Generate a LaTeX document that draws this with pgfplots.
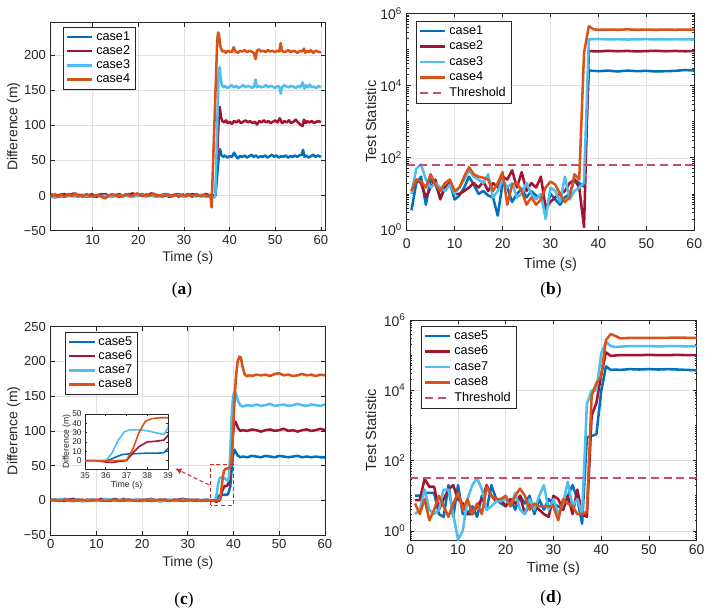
\documentclass[border=0pt]{standalone}
\usepackage{fontspec}
\setmainfont{Liberation Sans}
\newfontfamily\capfont{Liberation Serif}
\usepackage{pgfplots}
\pgfplotsset{compat=1.18}
\usepackage{pgfplotstable}
\usetikzlibrary{arrows.meta}

\definecolor{cA}{RGB}{0,114,189}
\definecolor{cB}{RGB}{162,20,47}
\definecolor{cC}{RGB}{77,190,238}
\definecolor{cD}{RGB}{217,83,25}
\definecolor{thr}{RGB}{204,76,102}
\definecolor{axc}{RGB}{38,38,38}
\definecolor{boxred}{RGB}{215,40,40}

% time histories of case5--case8 (used by the main plot and the zoomed inset)
\pgfplotstableread{
x y
0 1
1 0
2 -1
3 2
4 0
5 -1
6 1
7 0
8 -1
9 1
10 0
11 -1
12 1
13 0
14 2
15 0
16 -1
17 1
18 0
19 -1
20 0
21 1
22 -1
23 0
24 1
25 0
26 -1
27 1
28 0
29 -1
30 1
31 0
32 -1
33 0
34 1
35 0
35.5 0
36.0 0
36.2 1
36.5 4
36.8 6.5
37.0 7
37.5 7.5
38.0 8
38.5 8
38.8 8.5
39.0 13
39.3 20
39.6 45
39.9 65
40.2 73
40.6 68
41.0 64
41.5 62
42 63
43 62
44 64
45 63
46 62
47 64
48 63
49 62
50 64
51 63
52 62
53 63
54 64
55 62
56 63
57 62
58 63
59 62
60 62
}\tabfive
\pgfplotstableread{
x y
0 -1
1 1
2 0
3 -1
4 1
5 2
6 0
7 -1
8 1
9 0
10 -1
11 2
12 0
13 -1
14 1
15 0
16 2
17 -1
18 0
19 1
20 -1
21 0
22 2
23 0
24 -1
25 1
26 0
27 -1
28 1
29 2
30 0
31 -1
32 1
33 0
34 -1
35 0
35.5 0
36.0 -1.5
36.3 -2
36.6 -1
37.0 0
37.3 8
37.6 15
38.0 20
38.5 21
38.8 22
39.0 27
39.4 50
39.8 90
40.2 114
40.5 112
41.0 104
41.5 100
42 101
43 100
44 102
45 101
46 99
47 101
48 102
49 100
50 101
51 103
52 100
53 101
54 99
55 101
56 102
57 100
58 101
59 103
60 101
}\tabsix
\pgfplotstableread{
x y
0 0
1 -1
2 2
3 1
4 -1
5 0
6 1
7 -2
8 0
9 1
10 -1
11 0
12 2
13 1
14 -1
15 0
16 1
17 -1
18 0
19 2
20 0
21 -1
22 1
23 0
24 -2
25 0
26 1
27 -1
28 0
29 1
30 -1
31 0
32 1
33 -1
34 0
35 0
35.5 0
36.0 0
36.3 8
36.6 22
36.9 31
37.2 33
37.6 33
38.0 32
38.4 30
38.8 28
39.0 35
39.3 70
39.6 120
39.9 150
40.2 157
40.5 154
41.0 143
41.5 137
42.0 135
43 137
44 136
45 138
46 136
47 137
48 139
49 136
50 137
51 138
52 136
53 137
54 139
55 137
56 136
57 138
58 137
59 136
60 138
}\tabseven
\pgfplotstableread{
x y
0 1
1 0
2 -1
3 1
4 0
5 -1
6 0
7 1
8 -1
9 0
10 1
11 0
12 -1
13 0
14 1
15 -1
16 0
17 1
18 0
19 -1
20 1
21 0
22 -1
23 0
24 1
25 0
26 -1
27 1
28 0
29 -1
30 0
31 1
32 0
33 -1
34 0
35 0
35.5 0
36.0 0
36.5 0
37.0 0.5
37.3 12
37.6 30
37.9 42
38.2 45
38.6 46
39.0 46
39.3 47
39.6 60
39.9 100
40.2 140
40.5 175
40.9 200
41.3 207
41.6 206
42.0 192
42.4 182
42.8 179
43.5 180
44 179
45 181
46 180
47 181
48 179
49 182
50 183
51 180
52 181
53 179
54 180
55 182
56 180
57 181
58 179
59 181
60 180
}\tabeight

\pgfplotsset{
  matlab/.style={
    scale only axis, anchor=south west,
    axis line style={axc, line width=0.5pt},
    every tick/.style={axc, line width=0.5pt},
    tick align=inside,
    major tick length=3pt, minor tick length=1.6pt,
    grid=major, major grid style={black!12, line width=0.4pt},
    ticklabel style={text=axc},
    label style={text=axc, font=\fontsize{10.5}{12}\selectfont},
    /pgf/number format/assume math mode=true,
    legend cell align=left,
    legend style={draw=axc, line width=0.5pt, fill=white, anchor=north west,
      font=\fontsize{9.5}{10}\selectfont, inner xsep=2pt, inner ysep=1.5pt, row sep=-1.5pt},
    legend image code/.code={\draw[#1, line width=1.9pt] (0pt,0pt) -- (19pt,0pt);},
    every axis plot/.append style={line width=1.9pt, line join=round},
  },
  logminor/.style={minor ytick={2,3,4,5,6,7,8,9,10,20,30,40,50,60,70,80,90,
    200,300,400,500,600,700,800,900,1000,2000,3000,4000,5000,6000,7000,8000,9000,
    20000,30000,40000,50000,60000,70000,80000,90000,100000,
    200000,300000,400000,500000,600000,700000,800000,900000}},
}

\begin{document}
\begin{tikzpicture}
\useasboundingbox (0,0) rectangle (534pt,457.5pt);

% ---------------- (a) difference, cases 1-4 ----------------
\begin{axis}[matlab, at={(38pt,284.5pt)}, width=205.7pt, height=156pt,
  xmin=0.8, xmax=60.9, ymin=-50, ymax=246,
  xtick={10,20,...,60}, ytick={-50,0,50,100,150,200},
  yticklabels={−50,0,50,100,150,200},
  ticklabel style={font=\fontsize{9.8}{11}\selectfont},
  xlabel={Time (s)}, ylabel={Difference (m)},
  xlabel style={at={(axis description cs:0.5,-0.1327)}, anchor=center},
  ylabel style={at={(axis description cs:-0.135,0.5)}, anchor=center},
  legend style={at={(0.044,0.981)}},
]
\addplot[cA] coordinates {(0.8,-1)(1.8,1)(2.8,-2)(3.8,0)(4.8,2)(5.8,-1)(6.8,1)(7.8,0)(8.8,-2)(9.8,1)(10.8,0)(11.8,2)(12.8,-1)(13.8,0)(14.8,1)(15.8,-2)(16.8,0)(17.8,2)(18.8,-1)(19.8,1)(20.8,0)(21.8,-1)(22.8,2)(23.8,0)(24.8,-1)(25.8,1)(26.8,-2)(27.8,0)(28.8,1)(29.8,-1)(30.8,2)(31.8,0)(32.8,-1)(33.8,1)(34.8,0)(35.8,-1)(36.9,0)
 (37.7,60)(37.9,66)(38.2,58)(38.6,55)(39.0,57)(39.5,54)(40.0,56)(40.5,55)(41.0,61)(41.4,56)(41.8,53)(42.3,56)(42.8,55)(43.3,57)(43.8,54)(44.3,56)(44.8,58)(45.3,55)(45.8,57)(46.3,54)(46.8,56)(47.3,55)(47.8,57)(48.3,54)(48.8,56)(49.3,58)(49.8,55)(50.3,57)(50.8,54)(51.3,56)(51.8,55)(52.3,57)(52.8,54)(53.3,56)(53.8,55)(54.3,57)(54.8,55)(55.3,57)(55.8,58)(56.1,65)(56.4,55)(56.8,57)(57.3,54)(57.8,56)(58.3,58)(58.8,55)(59.3,57)(60.0,55)};
\addlegendentry{case1}
\addplot[cB] coordinates {(0.8,2)(1.8,-1)(2.8,1)(3.8,2)(4.8,-1)(5.8,3)(6.8,0)(7.8,1)(8.8,-1)(9.8,2)(10.8,-2)(11.8,1)(12.8,2)(13.8,-1)(14.8,0)(15.8,2)(16.8,-1)(17.8,1)(18.8,3)(19.8,0)(20.8,2)(21.8,-1)(22.8,3)(23.8,1)(24.8,0)(25.8,2)(26.8,-1)(27.8,1)(28.8,2)(29.8,0)(30.8,-1)(31.8,2)(32.8,1)(33.8,-1)(34.8,2)(35.8,0)(36.9,0)
 (37.7,120)(37.85,126)(38.1,112)(38.4,106)(38.8,104)(39.2,107)(39.6,103)(40.0,105)(40.5,102)(41.0,106)(41.5,104)(42.0,107)(42.5,103)(43.0,105)(43.5,107)(44.0,104)(44.5,106)(45.0,103)(45.5,105)(46.0,101)(46.5,106)(47.0,104)(47.5,107)(48.0,104)(48.5,106)(49.0,103)(49.5,105)(50.0,107)(50.5,104)(51.0,110)(51.5,103)(52.0,106)(52.5,104)(53.0,107)(53.5,103)(54.0,105)(54.5,108)(55.0,104)(55.5,101)(56.0,99)(56.3,108)(56.7,103)(57.0,106)(57.5,104)(58.0,106)(58.5,103)(59.0,105)(59.5,106)(60.0,104)};
\addlegendentry{case2}
\addplot[cC] coordinates {(0.8,-2)(1.8,-3)(2.8,-1)(3.8,-2)(4.8,0)(5.8,-1)(6.8,-2)(7.8,0)(8.8,-1)(9.8,-2)(10.8,1)(11.8,-1)(12.8,0)(13.8,-2)(14.8,-1)(15.8,0)(16.8,1)(17.8,-1)(18.8,-2)(19.8,0)(20.8,1)(21.8,-1)(22.8,0)(23.8,-2)(24.8,-1)(25.8,1)(26.8,0)(27.8,-1)(28.8,1)(29.8,-2)(30.8,0)(31.8,-1)(32.8,1)(33.8,0)(34.8,-2)(35.8,-1)(36.7,-3)(36.9,0)
 (37.6,175)(37.8,183)(38.0,170)(38.3,158)(38.6,154)(39.0,156)(39.5,153)(40.0,155)(40.5,157)(41.0,154)(41.5,156)(42.0,153)(42.5,155)(43.0,157)(43.5,154)(44.0,156)(44.5,155)(45.0,153)(45.4,156)(45.7,165)(46.0,154)(46.5,156)(47.0,154)(47.5,155)(48.0,157)(48.5,154)(49.0,156)(49.5,155)(50.0,153)(50.5,156)(50.9,155)(51.2,145)(51.5,154)(52.0,157)(52.5,155)(53.0,154)(53.5,156)(54.0,155)(54.5,153)(55.0,156)(55.5,154)(56.0,161)(56.4,152)(56.8,157)(57.2,154)(57.6,158)(58.0,154)(58.5,155)(59.0,153)(59.5,156)(60.0,154)};
\addlegendentry{case3}
\addplot[cD] coordinates {(0.8,1)(1.3,-1)(1.8,2)(2.3,-2)(2.8,0)(3.3,1)(3.8,-2)(4.3,0)(4.8,2)(5.3,-1)(5.8,1)(6.3,3)(6.8,-1)(7.3,0)(7.8,-2)(8.3,1)(8.8,2)(9.3,-1)(9.8,0)(10.3,-2)(10.8,1)(11.3,0)(11.8,-1)(12.3,-3)(12.8,-4)(13.3,-1)(13.8,1)(14.3,2)(14.8,0)(15.3,-1)(15.8,1)(16.3,-2)(16.8,0)(17.3,2)(17.8,1)(18.3,-1)(18.8,0)(19.3,2)(19.8,3)(20.3,1)(20.8,-1)(21.3,0)(21.8,2)(22.3,-1)(22.8,1)(23.3,3)(23.8,0)(24.3,-1)(24.8,1)(25.3,-2)(25.8,0)(26.3,2)(26.8,1)(27.3,-1)(27.8,0)(28.3,1)(28.8,-2)(29.3,0)(29.8,2)(30.3,-1)(30.8,1)(31.3,0)(31.8,-2)(32.3,1)(32.8,2)(33.3,0)(33.8,-1)(34.3,1)(34.8,0)(35.3,-1)(35.8,1)
 (36.06,-17)(37.3,222)(37.5,232)(37.7,228)(38.0,212)(38.4,205)(38.8,206)(39.2,203)(39.6,206)(40.0,205)(40.5,204)(40.9,211)(41.3,205)(41.8,203)(42.3,206)(42.8,205)(43.3,207)(43.8,204)(44.3,206)(44.8,205)(45.3,203)(45.7,194)(46.0,206)(46.4,208)(46.9,205)(47.4,206)(47.9,204)(48.4,207)(48.9,205)(49.4,206)(49.9,204)(50.4,206)(50.9,205)(51.2,217)(51.5,206)(51.9,204)(52.4,205)(52.9,207)(53.4,204)(53.9,206)(54.4,205)(54.9,203)(55.4,206)(55.9,205)(56.3,209)(56.6,203)(57.0,206)(57.4,204)(57.8,207)(58.3,203)(58.8,206)(59.3,205)(59.8,204)(60.0,205)};
\addlegendentry{case4}
\end{axis}

% ---------------- (b) test statistic, cases 1-4 ----------------
\begin{axis}[matlab, logminor, at={(305pt,285pt)}, width=215.7pt, height=162.5pt,
  ymode=log, xmin=0, xmax=60, ymin=1, ymax=1e6,
  xtick={0,10,...,60}, ytick={1,100,10000,1000000},
  yticklabels={10\textsuperscript{0},10\textsuperscript{2},10\textsuperscript{4},10\textsuperscript{6}},
  ticklabel style={font=\fontsize{10.5}{12}\selectfont},
  xticklabel style={yshift=-3pt},
  label style={font=\fontsize{11}{13}\selectfont},
  xlabel={Time (s)}, ylabel={Test Statistic},
  xlabel style={at={(axis description cs:0.5,-0.1615)}, anchor=center},
  ylabel style={at={(axis description cs:-0.1242,0.5)}, anchor=center},
  legend style={at={(0.032,0.966)}, row sep=-0.5pt},
]
\addplot[cA] coordinates {(1,3.5)(2,20)(3,30)(4,5)(5,25)(6,18)(7,8)(8,15)(9,20)(10,7)(11,9)(12,15)(13,30)(14,18)(15,10)(16,12)(17,9)(18,8)(19,2.5)(20,20)(21,15)(22,6)(23,10)(24,14)(25,8)(26,12)(27,9)(28,8)(29,3.5)(30,10)(31,7)(32,5)(33,8)(34,10)(35,25)(36,20)(37,16)
 (38,2.6e4)(40,2.5e4)(42,2.6e4)(44,2.45e4)(46,2.6e4)(48,2.5e4)(50,2.55e4)(52,2.45e4)(54,2.5e4)(56,2.55e4)(58,2.7e4)(60,2.6e4)};
\addlegendentry{case1}
\addplot[cB] coordinates {(1,12)(2,25)(3,20)(4,8)(5,15)(6,25)(7,7)(8,15)(9,20)(10,10)(11,10)(12,12)(13,15)(14,20)(15,15)(16,22)(17,12)(18,20)(19,15)(20,30)(21,25)(22,45)(23,15)(24,40)(25,12)(26,20)(27,15)(28,30)(29,4)(30,6)(31,8)(32,10)(33,12)(34,20)(35,25)(36,15)(37,1.2)
 (38,9e4)(40,8.8e4)(42,9.2e4)(44,8.9e4)(46,9.1e4)(48,8.8e4)(50,9e4)(52,9.2e4)(54,8.9e4)(56,9.1e4)(58,8.9e4)(60,9e4)};
\addlegendentry{case2}
\addplot[cC] coordinates {(1,10)(2,50)(3,65)(4,25)(5,15)(6,20)(7,15)(8,12)(9,18)(10,10)(11,15)(12,25)(13,45)(14,30)(15,25)(16,20)(17,35)(18,8)(19,12)(20,25)(21,15)(22,20)(23,8)(24,10)(25,20)(26,10)(27,7)(28,10)(29,2)(30,15)(31,12)(32,6)(33,30)(34,7)(35,12)(36,15)(37,20)
 (38,1.9e5)(40,1.95e5)(42,1.9e5)(44,1.92e5)(46,1.88e5)(48,1.9e5)(50,1.93e5)(52,1.89e5)(54,1.9e5)(56,1.92e5)(58,1.9e5)(60,1.88e5)};
\addlegendentry{case3}
\addplot[cD] coordinates {(1,12)(2,25)(3,22)(4,15)(5,35)(6,18)(7,12)(8,20)(9,25)(10,12)(11,15)(12,30)(13,55)(14,35)(15,30)(16,28)(17,25)(18,12)(19,20)(20,40)(21,5)(22,18)(23,20)(24,12)(25,5)(26,8)(27,5)(28,7)(29,15)(30,22)(31,18)(32,10)(33,6)(34,8)(35,35)(36,25)(37,8e4)
 (38,4.4e5)(39,3.6e5)(40,3.5e5)(42,3.55e5)(44,3.5e5)(46,3.6e5)(48,3.5e5)(50,3.55e5)(52,3.5e5)(54,3.55e5)(56,3.5e5)(58,3.55e5)(60,3.5e5)};
\addlegendentry{case4}
\addplot[thr, dashed, dash pattern=on 6pt off 3.5pt] coordinates {(0,63)(60,63)};
\addlegendentry{Threshold}
\end{axis}

% ---------------- (c) difference, cases 5-8 ----------------
\begin{axis}[matlab, at={(38pt,56.25pt)}, width=205.7pt, height=156.2pt,
  xmin=0, xmax=60, ymin=-50, ymax=250,
  xtick={0,10,...,60}, ytick={-50,0,50,100,150,200,250},
  yticklabels={−50,0,50,100,150,200,250},
  ticklabel style={font=\fontsize{9.8}{11}\selectfont},
  xlabel={Time (s)}, ylabel={Difference (m)},
  xlabel style={at={(axis description cs:0.5,-0.1357)}, anchor=center},
  ylabel style={at={(axis description cs:-0.135,0.5)}, anchor=center},
  legend style={at={(0.052,0.976)}},
]
\addplot[cA] table {\tabfive};
\addlegendentry{case5}
\addplot[cB] table {\tabsix};
\addlegendentry{case6}
\addplot[cC] table {\tabseven};
\addlegendentry{case7}
\addplot[cD] table {\tabeight};
\addlegendentry{case8}
\draw[boxred, dashed, line width=0.8pt, dash pattern=on 3pt off 2pt] (axis cs:35,-7) rectangle (axis cs:40,52);
\draw[boxred, dashed, line width=0.8pt, dash pattern=on 3pt off 2pt, -{Latex[length=5pt,width=4.5pt]}] (axis cs:34.7,22) -- (axis cs:27.2,46);
\end{axis}

% zoomed view of the onset, 35-39 s
\begin{axis}[scale only axis, anchor=south west, at={(63.75pt,105.75pt)}, width=62.25pt, height=41.25pt,
  xmin=35, xmax=39, ymin=-9, ymax=50,
  xtick={35,36,37,38,39}, ytick={0,10,...,50},
  axis background/.style={fill=white},
  axis line style={axc, line width=0.4pt},
  every tick/.style={axc, line width=0.4pt},
  tick align=inside, major tick length=1.5pt,
  ticklabel style={text=axc, font=\fontsize{6.3}{7}\selectfont},
  /pgf/number format/assume math mode=true,
  xticklabel style={yshift=1pt}, yticklabel style={xshift=1pt},
  label style={text=axc, font=\fontsize{6.5}{7.5}\selectfont},
  xlabel={Time (s)}, ylabel={Difference (m)},
  xlabel style={at={(axis description cs:0.5,-0.3)}, anchor=center},
  ylabel style={at={(axis description cs:-0.22,0.5)}, anchor=center},
  every axis plot/.append style={line width=1.2pt, line join=round},
]
\addplot[cA] table {\tabfive};
\addplot[cB] table {\tabsix};
\addplot[cC] table {\tabseven};
\addplot[cD] table {\tabeight};
\end{axis}

% ---------------- (d) test statistic, cases 5-8 ----------------
\begin{axis}[matlab, logminor, at={(307.7pt,52.5pt)}, width=214.8pt, height=165pt,
  ymode=log, xmin=0, xmax=60, ymin=0.55, ymax=1e6,
  minor ytick={0.6,0.7,0.8,0.9,2,3,4,5,6,7,8,9,10,20,30,40,50,60,70,80,90,
    200,300,400,500,600,700,800,900,1000,2000,3000,4000,5000,6000,7000,8000,9000,
    20000,30000,40000,50000,60000,70000,80000,90000,100000,
    200000,300000,400000,500000,600000,700000,800000,900000},
  xtick={0,10,...,60}, ytick={1,100,10000,1000000},
  yticklabels={10\textsuperscript{0},10\textsuperscript{2},10\textsuperscript{4},10\textsuperscript{6}},
  ticklabel style={font=\fontsize{10.5}{12}\selectfont},
  label style={font=\fontsize{11}{13}\selectfont},
  xlabel={Time (s)}, ylabel={Test Statistic},
  xlabel style={at={(axis description cs:0.5,-0.1285)}, anchor=center},
  ylabel style={at={(axis description cs:-0.1373,0.5)}, anchor=center},
  legend style={at={(0.037,0.974)}, row sep=-0.5pt},
]
\addplot[cA] coordinates {(1,10)(2,10)(3,12)(4,12)(5,12)(6,3)(7,2.5)(8,20)(9,2.5)(10,20)(11,3)(12,3)(13,5)(14,2.5)(15,10)(16,4)(17,20)(18,8)(19,6)(20,5)(21,8)(22,4)(23,10)(24,6)(25,10)(26,3)(27,8)(28,4)(29,8)(30,6)(31,5)(32,4)(33,10)(34,20)(35,8)(36,1.6)
 (37,450)(38,500)(39,560)(40,9.4e3)(41,4.8e4)(42,3.8e4)(43,3.9e4)(44,3.8e4)(46,4e4)(48,3.9e4)(50,4e4)(52,3.9e4)(54,4e4)(56,3.9e4)(58,3.8e4)(60,3.7e4)};
\addlegendentry{case5}
\addplot[cB] coordinates {(1,7.5)(2,7.5)(3,30)(4,18)(5,18)(6,4)(7,8)(8,15)(9,20)(10,8)(11,6)(12,3)(13,3)(14,5)(15,8)(16,20)(17,10)(18,7)(19,8)(20,5)(21,8)(22,6)(23,10)(24,3)(25,6)(26,5)(27,4)(28,3)(29,2.5)(30,10)(31,8)(32,4)(33,10)(34,3)(35,15)(36,3)(37,2.5)
 (38,1.9e3)(39,4.4e3)(40,2.8e4)(41,1.2e5)(42,9.5e4)(43,9.8e4)(44,1e5)(46,1e5)(48,1e5)(50,1.02e5)(52,1e5)(54,1e5)(56,1.02e5)(58,1e5)(60,1e5)};
\addlegendentry{case6}
\addplot[cC] coordinates {(1,3)(2,4)(3,15)(4,4)(5,3)(6,4)(7,15)(8,15)(9,3)(10,0.56)(11,1)(12,8)(13,20)(14,32)(15,15)(16,4)(17,5)(18,7)(19,7)(20,8)(21,5)(22,12)(23,4)(24,3)(25,8)(26,4)(27,10)(28,20)(29,4)(30,8)(31,3)(32,6)(33,25)(34,5)(35,8)(36,3)
 (37,4e3)(38,1e4)(39,1e4)(40,1.1e5)(41,2.4e5)(42,1.8e5)(43,1.7e5)(44,1.75e5)(46,1.8e5)(48,1.8e5)(50,1.8e5)(52,1.78e5)(54,1.8e5)(56,1.8e5)(58,1.78e5)(60,1.8e5)};
\addlegendentry{case7}
\addplot[cD] coordinates {(1,6)(2,3)(3,8)(4,2)(5,4)(6,10)(7,5)(8,2.5)(9,6)(10,12)(11,4)(12,8)(13,3)(14,6)(15,3)(16,18)(17,10)(18,8)(19,8)(20,10)(21,5)(22,10)(23,16)(24,10)(25,4)(26,6)(27,5)(28,5)(29,5)(30,5)(31,2)(32,8)(33,6)(34,5)(35,3)(36,3)(37,3.5)
 (38,7e3)(39,1.6e4)(40,2.5e4)(41,2.7e5)(42,4e5)(43,3.5e5)(44,3e5)(46,3.1e5)(48,3.1e5)(50,3.12e5)(52,3.1e5)(54,3.12e5)(56,3.15e5)(58,3.12e5)(60,3.1e5)};
\addlegendentry{case8}
\addplot[thr, dashed, dash pattern=on 6pt off 3.5pt] coordinates {(0,32)(60,32)};
\addlegendentry{Threshold}
\end{axis}

% sub-figure captions
\node[font=\capfont\fontsize{13}{15}\selectfont] at (136.5pt,240pt) {(\textbf{a})};
\node[font=\capfont\fontsize{13}{15}\selectfont] at (413.25pt,240pt) {(\textbf{b})};
\node[font=\capfont\fontsize{13}{15}\selectfont] at (138pt,7.5pt) {(\textbf{c})};
\node[font=\capfont\fontsize{13}{15}\selectfont] at (413.25pt,8.8pt) {(\textbf{d})};
\end{tikzpicture}
\end{document}
